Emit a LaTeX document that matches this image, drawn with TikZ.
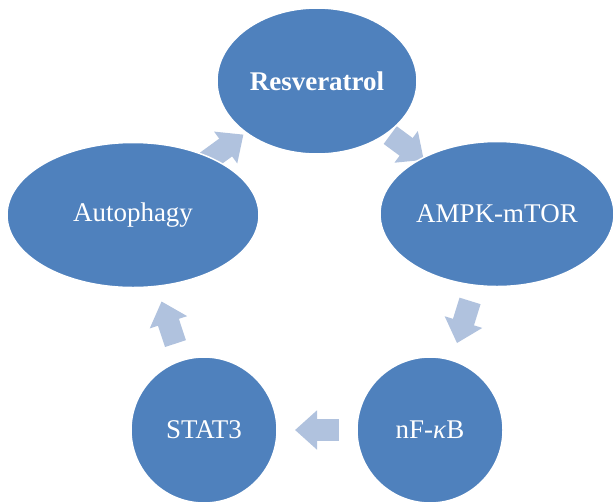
\documentclass[tikz,border=0pt]{standalone}
\usepackage{fontspec}
\setmainfont{Liberation Serif}
\usetikzlibrary{arrows.meta, shapes.geometric, backgrounds}
\definecolor{cyclefill}{HTML}{4F81BD}
\definecolor{cyclearrow}{HTML}{B0C2DE}

\begin{document}
\begin{tikzpicture}[x=1pt, y=-1pt,
    bubble/.style={ellipse, draw=white, line width=1.5pt, fill=cyclefill, text=white, inner sep=0pt, font=\fontsize{27}{30}\selectfont},
    flow/.style={draw=cyclearrow, line width=22pt, -{Triangle[length=22pt, width=38pt]}, shorten <=91pt, shorten >=91pt}
]
\useasboundingbox (0,0) rectangle (615,501);

\node[bubble, minimum width=200pt, minimum height=146pt] (res) at (317, 81) {\textbf{Resveratrol}};
\node[bubble, minimum width=234pt, minimum height=145pt] (ampk) at (497, 214) {AMPK-mTOR};
\node[bubble, minimum width=146pt, minimum height=146pt] (nfkb) at (430, 430) {nF-\textit{κ}B};
\node[bubble, minimum width=146pt, minimum height=146pt] (stat) at (204, 430) {STAT3};
\node[bubble, minimum width=252pt, minimum height=145pt] (auto) at (133, 215) {Autophagy};

\begin{scope}[on background layer]
\draw[flow] (auto.center) -- (res.center);
\draw[flow] (res.center) -- (ampk.center);
\draw[flow] (ampk.center) -- (nfkb.center);
\draw[flow] (nfkb.center) -- (stat.center);
\draw[flow] (stat.center) -- (auto.center);
\end{scope}
\end{tikzpicture}
\end{document}
